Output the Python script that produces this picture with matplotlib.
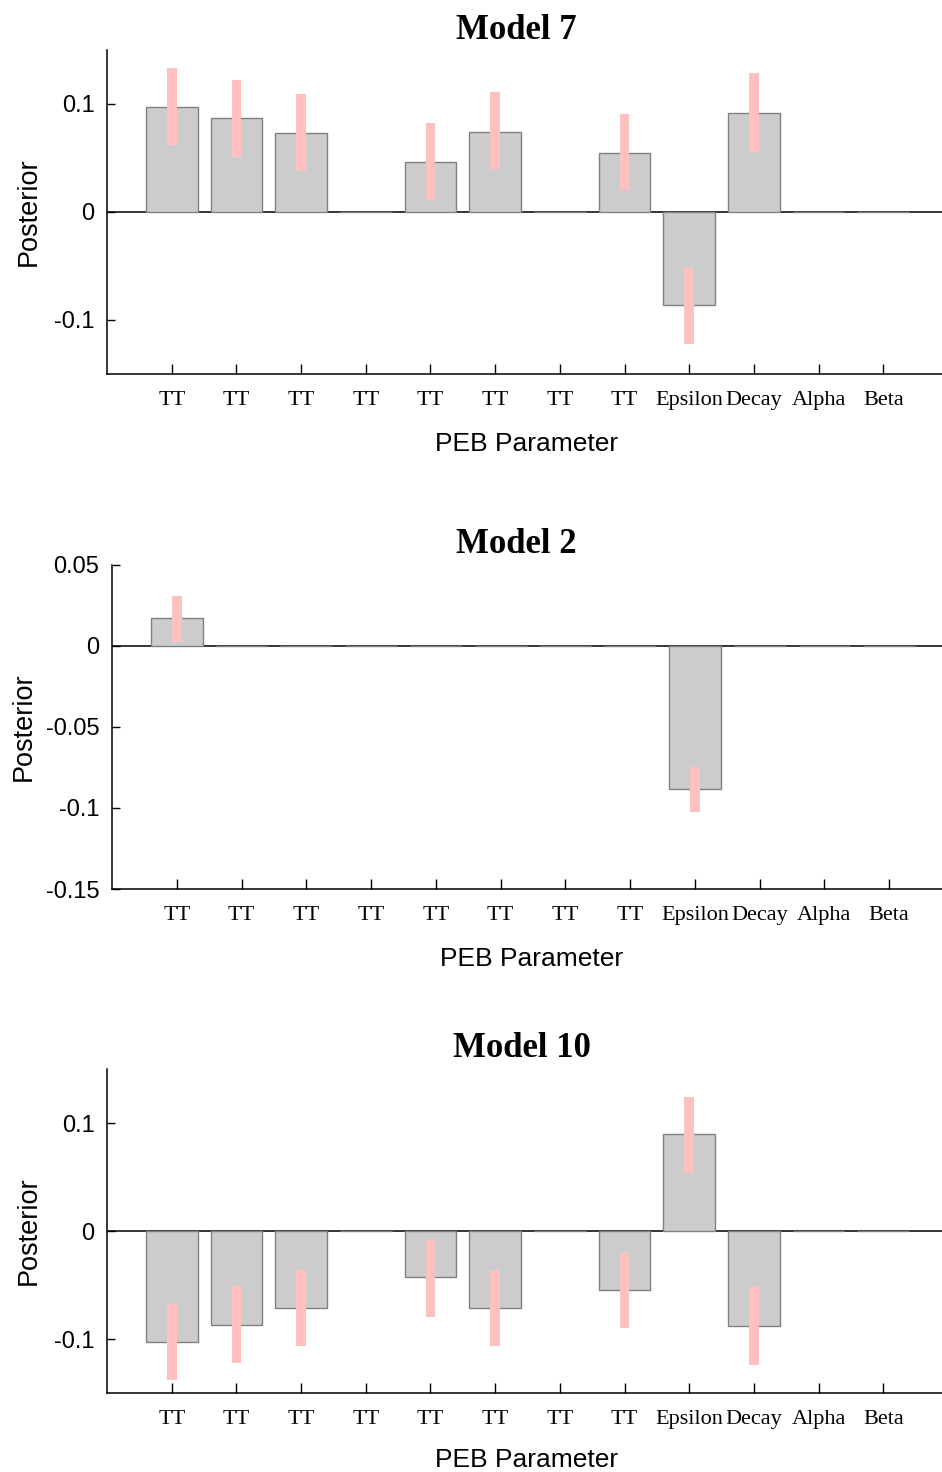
import matplotlib
matplotlib.use("Agg")
import matplotlib.pyplot as plt
import numpy as np

plt.rcParams['axes.unicode_minus'] = False

params = ["TT"] * 8 + ["Epsilon", "Decay", "Alpha", "Beta"]
nan = np.nan

# Model 7
m7_post = [0.097, 0.087, 0.073, 0.0, 0.046, 0.074, 0.0, 0.055, -0.0865, 0.092, 0.0, 0.0]
m7_lo = [0.062, 0.051, 0.038, nan, 0.011, 0.040, nan, 0.020, -0.1225, 0.056, nan, nan]
m7_hi = [0.133, 0.122, 0.109, nan, 0.082, 0.111, nan, 0.091, -0.052, 0.129, nan, nan]

# Model 2
m2_post = [0.017, 0.0, 0.0, 0.0, 0.0, 0.0, 0.0, 0.0, -0.088, 0.0, 0.0, 0.0]
m2_lo = [0.0025, nan, nan, nan, nan, nan, nan, nan, -0.1027, nan, nan, nan]
m2_hi = [0.031, nan, nan, nan, nan, nan, nan, nan, -0.0746, nan, nan, nan]

# Model 10
m10_post = [-0.103, -0.087, -0.0715, 0.0, -0.043, -0.0715, 0.0, -0.055, 0.0896, -0.088, 0.0, 0.0]
m10_lo = [-0.138, -0.122, -0.1066, nan, -0.080, -0.1066, nan, -0.090, 0.0538, -0.1238, nan, nan]
m10_hi = [-0.0675, -0.051, -0.0357, nan, -0.0084, -0.0364, nan, -0.0202, 0.1243, -0.052, nan, nan]

yticks_a = [-0.1, 0, 0.1]
ylabels_a = ["-0.1", "0", "0.1"]
yticks_b = [-0.15, -0.1, -0.05, 0, 0.05]
ylabels_b = ["-0.15", "-0.1", "-0.05", "0", "0.05"]

W, H = 942, 1472
fig = plt.figure(figsize=(W / 100, H / 100), dpi=100)

# (title, post, lo, hi, ylim, yticks, ylabels, axes box in px, title baseline, xlabel baseline, ylabel x)
panels = [
    ("Model 7", m7_post, m7_lo, m7_hi, (-0.15, 0.15), yticks_a, ylabels_a,
     (107, 50, 948, 374), (516, 39), (527, 451), 29),
    ("Model 2", m2_post, m2_lo, m2_hi, (-0.15, 0.05), yticks_b, ylabels_b,
     (112, 565, 954, 889), (516, 553), (532, 966), 24),
    ("Model 10", m10_post, m10_lo, m10_hi, (-0.15, 0.15), yticks_a, ylabels_a,
     (107, 1069, 948, 1393), (522, 1057), (527, 1467), 29),
]

x = np.arange(1, len(params) + 1)

for title, post, lo, hi, ylim, yt, yl, box, tpos, xlpos, ylx in panels:
    left, top, right, bottom = box
    ax = fig.add_axes([left / W, 1 - bottom / H, (right - left) / W, (bottom - top) / H])

    ax.axhline(0, color='black', lw=1.1, zorder=1)
    ax.bar(x, post, width=0.8, color='#cccccc', edgecolor='#808080', lw=1.0, zorder=2)

    lo = np.array(lo)
    hi = np.array(hi)
    mask = ~np.isnan(lo)
    ax.bar(x[mask], hi[mask] - lo[mask], bottom=lo[mask], width=0.15,
           color='#ffc0c0', lw=0, zorder=3)

    ax.set_xlim(0, 13)
    ax.set_ylim(*ylim)
    ax.set_xticks(x)
    ax.set_xticklabels(params, fontfamily='Liberation Serif', fontsize=16)
    ax.set_yticks(yt)
    ax.set_yticklabels(yl, fontfamily='Liberation Sans', fontsize=17)
    ax.tick_params(axis='x', direction='in', length=7.2, width=1, pad=12)
    ax.tick_params(axis='y', direction='in', length=5.5, width=1, pad=9)
    for s in ['top', 'right']:
        ax.spines[s].set_visible(False)
    for s in ['left', 'bottom']:
        ax.spines[s].set_linewidth(1.1)

    fig.text(tpos[0] / W, 1 - tpos[1] / H, title, ha='center', va='baseline',
             family='Liberation Serif', weight='bold', fontsize=25)
    fig.text(xlpos[0] / W, 1 - xlpos[1] / H, "PEB Parameter", ha='center', va='baseline',
             family='Liberation Sans', fontsize=19)
    fig.text(ylx / W, 1 - ((top + bottom) / 2) / H, "Posterior", ha='center', va='center',
             rotation=90, family='Liberation Sans', fontsize=19.5)

fig.savefig("out.png", dpi=100)
